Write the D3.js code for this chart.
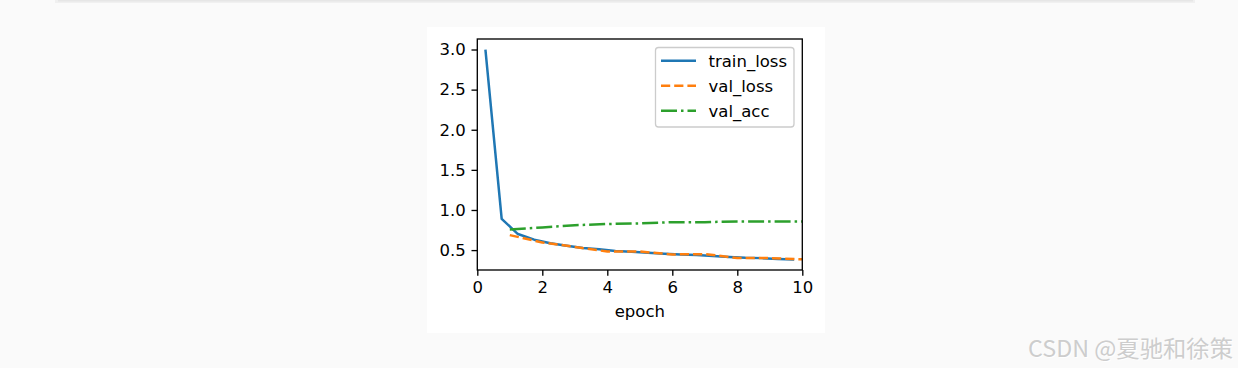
<!DOCTYPE html>
<html>
<head>
<meta charset="utf-8">
<script src="https://cdn.jsdelivr.net/npm/d3@7"></script>
<style>
  html, body { margin: 0; padding: 0; background: #fafafa; }
  svg { display: block; }
</style>
</head>
<body>
<div id="chart"></div>
<script>
// ---- data ----
const trainEpochs = [0.25, 0.75, 1.25, 1.75, 2.25, 2.75, 3.25, 3.75, 4.25, 4.75,
                     5.25, 5.75, 6.25, 6.75, 7.25, 7.75, 8.25, 8.75, 9.25, 9.75];
const trainLoss = [3.00, 0.89, 0.70, 0.63, 0.585, 0.555, 0.525, 0.51, 0.49, 0.48,
                   0.468, 0.455, 0.446, 0.438, 0.425, 0.415, 0.405, 0.40, 0.39, 0.383];
const valEpochs = [1, 2, 3, 4, 5, 6, 7, 8, 9, 10];
const valLoss = [0.687, 0.595, 0.54, 0.482, 0.482, 0.446, 0.45, 0.402, 0.40, 0.385];
const valAcc = [0.758, 0.783, 0.81, 0.825, 0.833, 0.848, 0.848, 0.858, 0.858, 0.856];
const xTicks = [0, 2, 4, 6, 8, 10];
const yTicks = [0.5, 1.0, 1.5, 2.0, 2.5, 3.0];
const seriesNames = ["train_loss", "val_loss", "val_acc"];
const xLabel = "epoch";
const watermark = "CSDN @夏驰和徐策";

// ---- layout ----
const W = 1238, H = 368;
const plot = { left: 477.3, right: 802.3, top: 39, bottom: 270 };
const font = "'DejaVu Sans', sans-serif";
const fs = 16.5;

const svg = d3.select("#chart").append("svg")
  .attr("width", W).attr("height", H);

svg.append("rect").attr("width", W).attr("height", H).attr("fill", "#fafafa");

// top separator line with soft shadow
svg.append("rect").attr("x", 55).attr("y", 0).attr("width", 1140).attr("height", 3)
  .attr("fill", "#f0f0f0");
svg.append("rect").attr("x", 58).attr("y", 0).attr("width", 1135).attr("height", 1.5)
  .attr("fill", "#e6e6e6");

// white figure background
svg.append("rect").attr("x", 427).attr("y", 27).attr("width", 398).attr("height", 306)
  .attr("fill", "#ffffff");

const x = d3.scaleLinear().domain([0, 10]).range([plot.left, plot.right]);
const y = d3.scaleLinear().domain([0.252, 3.131]).range([plot.bottom, plot.top]);

const defs = svg.append("defs");
defs.append("clipPath").attr("id", "clip").append("rect")
  .attr("x", plot.left).attr("y", plot.top)
  .attr("width", plot.right - plot.left).attr("height", plot.bottom - plot.top);

const line = d3.line().x(d => x(d[0])).y(d => y(d[1]));
const colors = ["#1f77b4", "#ff7f0e", "#2ca02c"];
const dashes = [null, "9.2,4", "16,4,2.5,4"];
const data = [
  d3.zip(trainEpochs, trainLoss),
  d3.zip(valEpochs, valLoss),
  d3.zip(valEpochs, valAcc)
];

const lines = svg.append("g").attr("clip-path", "url(#clip)");
data.forEach((d, i) => {
  lines.append("path").datum(d)
    .attr("d", line)
    .attr("fill", "none")
    .attr("stroke", colors[i])
    .attr("stroke-width", 2.5)
    .attr("stroke-linecap", "butt")
    .attr("stroke-linejoin", "round")
    .attr("stroke-dasharray", dashes[i]);
});

// axes
const xAxis = d3.axisBottom(x).tickValues(xTicks).tickFormat(d3.format("d"))
  .tickSize(5.8).tickSizeOuter(0).tickPadding(5.8);
const yAxis = d3.axisLeft(y).tickValues(yTicks).tickFormat(d3.format(".1f"))
  .tickSize(5.8).tickSizeOuter(0).tickPadding(5.8);

const gx = svg.append("g").attr("transform", `translate(0,${plot.bottom})`).call(xAxis);
const gy = svg.append("g").attr("transform", `translate(${plot.left},0)`).call(yAxis);
[gx, gy].forEach(g => {
  g.select(".domain").remove();
  g.selectAll("line").attr("stroke", "#000").attr("stroke-width", 1.33);
  g.selectAll("text").attr("font-family", font).attr("font-size", fs).attr("fill", "#000");
});

// frame (spines)
svg.append("rect")
  .attr("x", plot.left).attr("y", plot.top)
  .attr("width", plot.right - plot.left).attr("height", plot.bottom - plot.top)
  .attr("fill", "none").attr("stroke", "#000").attr("stroke-width", 1.33);

// x label
svg.append("text")
  .attr("x", (plot.left + plot.right) / 2).attr("y", 317)
  .attr("text-anchor", "middle")
  .attr("font-family", font).attr("font-size", fs).attr("fill", "#000")
  .text(xLabel);

// legend
const lg = svg.append("g");
lg.append("rect")
  .attr("x", 655.5).attr("y", 47.5).attr("width", 138.5).attr("height", 79.5)
  .attr("rx", 3).attr("ry", 3)
  .attr("fill", "#ffffff").attr("fill-opacity", 0.8)
  .attr("stroke", "#cccccc").attr("stroke-width", 1.3);
seriesNames.forEach((name, i) => {
  const cy = 60.7 + i * 25;
  lg.append("line")
    .attr("x1", 661).attr("x2", 696).attr("y1", cy).attr("y2", cy)
    .attr("stroke", colors[i]).attr("stroke-width", 2.5)
    .attr("stroke-dasharray", dashes[i]);
  lg.append("text")
    .attr("x", 708.5).attr("y", cy + 6)
    .attr("font-family", font).attr("font-size", fs).attr("fill", "#000")
    .text(name);
});

// watermark
const wmFont = "'Noto Sans CJK SC', 'Noto Sans', sans-serif";
[["#ffffff", 1], ["#cdcdcd", 0]].forEach(([c, off]) => {
  svg.append("text")
    .attr("x", 1028 + off).attr("y", 357 + off)
    .attr("font-family", wmFont)
    .attr("font-size", 23)
    .attr("textLength", 205)
    .attr("lengthAdjust", "spacingAndGlyphs")
    .attr("fill", c)
    .text(watermark);
});
</script>
</body>
</html>
